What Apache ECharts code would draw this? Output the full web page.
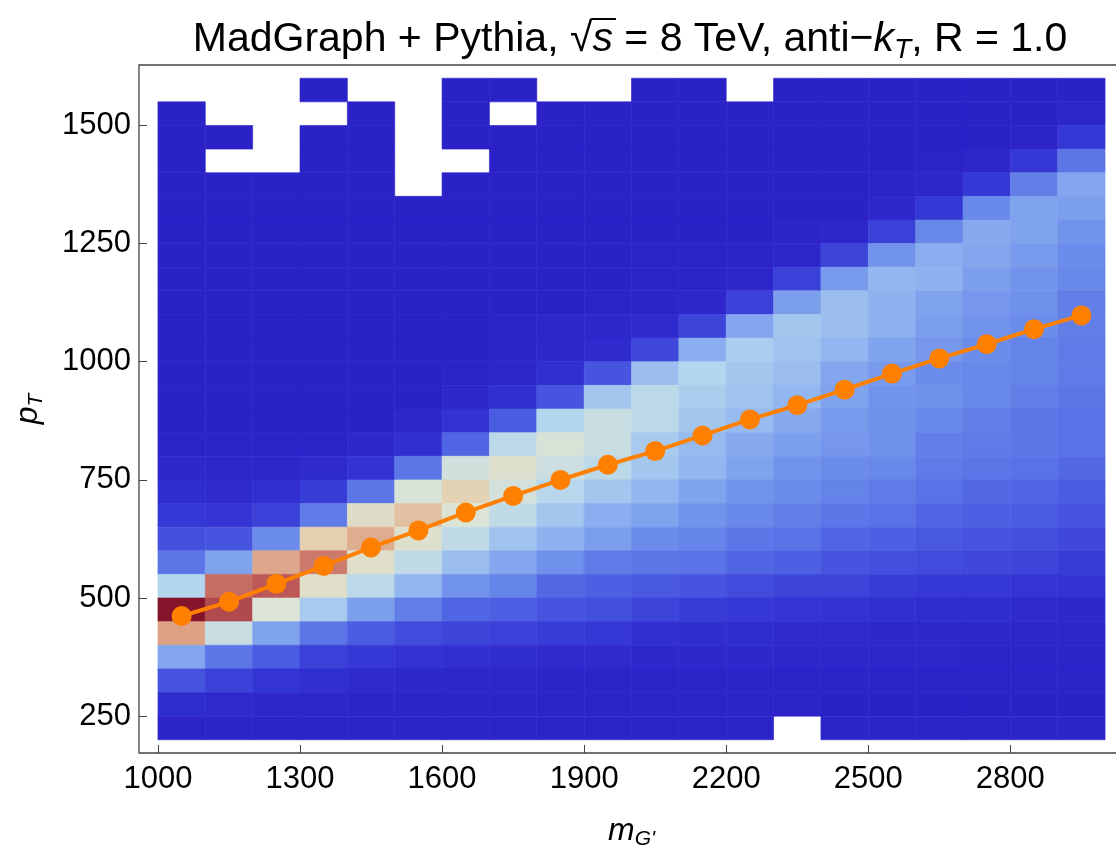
<!DOCTYPE html>
<html>
<head>
<meta charset="utf-8">
<script src="https://cdn.jsdelivr.net/npm/echarts@6/dist/echarts.min.js"></script>
<style>
html, body { margin: 0; padding: 0; background: #fff; }
#chart { width: 1116px; height: 852px; }
</style>
</head>
<body>
<div id="chart"></div>
<script>
// bin edges
const massEdges = [1000, 1100, 1200, 1300, 1400, 1500, 1600, 1700, 1800, 1900, 2000,
                   2100, 2200, 2300, 2400, 2500, 2600, 2700, 2800, 2900, 3000];
const ptEdges = [200, 250, 300, 350, 400, 450, 500, 550, 600, 650, 700, 750, 800, 850, 900,
                 950, 1000, 1050, 1100, 1150, 1200, 1250, 1300, 1350, 1400, 1450, 1500, 1550, 1600];

// tick labels
const massTicks = [1000, 1300, 1600, 1900, 2200, 2500, 2800];
const ptTicks = [250, 500, 750, 1000, 1250, 1500];

// relative bin content, top row (pT 1550-1600) first, null = empty bin
const counts = [
  [null, null, null, 2, null, null, 2, 2, null, null, 2, 2, null, 2, 2, 2, 2, 2, 2, 2],
  [2, null, null, null, 2, null, 2, null, 2, 2, 2, 2, 2, 2, 2, 2, 2, 2, 2, 4],
  [2, 2, null, 2, 2, null, 2, 2, 2, 2, 2, 2, 2, 2, 2, 2, 2, 2, 3, 11],
  [2, null, null, 2, 2, null, null, 2, 2, 2, 2, 2, 2, 2, 2, 2, 3, 4, 11, 26],
  [2, 2, 2, 2, 2, null, 2, 2, 2, 2, 2, 2, 2, 2, 2, 3, 4, 11, 28, 38],
  [2, 2, 2, 2, 2, 2, 2, 2, 2, 2, 2, 2, 2, 2, 2, 4, 11, 30, 37, 36],
  [2, 2, 2, 2, 2, 2, 2, 2, 2, 2, 2, 2, 2, 3, 4, 13, 30, 39, 37, 33],
  [2, 2, 2, 2, 2, 2, 2, 2, 2, 2, 3, 3, 3, 4, 14, 33, 40, 38, 35, 31],
  [2, 2, 2, 2, 2, 2, 2, 2, 2, 2, 3, 3, 4, 13, 35, 42, 41, 36, 33, 30],
  [2, 2, 2, 2, 2, 2, 2, 2, 2, 3, 3, 4, 13, 36, 44, 41, 37, 34, 32, 28],
  [2, 2, 2, 2, 2, 2, 2, 3, 4, 5, 6, 14, 38, 46, 44, 41, 36, 33, 31, 28],
  [2, 2, 2, 2, 2, 2, 2, 3, 5, 6, 15, 40, 48, 45, 42, 37, 34, 31, 29, 27],
  [2, 2, 2, 2, 2, 2, 3, 4, 8, 18, 44, 50, 46, 44, 38, 35, 31, 30, 29, 27],
  [2, 2, 2, 2, 2, 2, 5, 8, 18, 46, 52, 48, 45, 42, 37, 33, 32, 30, 28, 26],
  [2, 2, 2, 2, 2, 5, 9, 20, 50, 55, 52, 46, 43, 39, 35, 32, 30, 28, 26, 25],
  [3, 3, 3, 3, 5, 8, 22, 52, 59, 55, 47, 43, 39, 36, 34, 32, 28, 27, 26, 25],
  [5, 4, 4, 6, 9, 26, 57, 62, 56, 52, 46, 42, 37, 33, 31, 30, 27, 26, 25, 23],
  [7, 6, 8, 12, 26, 59, 69, 58, 51, 46, 42, 37, 33, 31, 29, 27, 25, 23, 22, 20],
  [11, 10, 13, 27, 64, 73, 60, 53, 46, 40, 37, 33, 30, 28, 26, 25, 22, 21, 20, 18],
  [17, 18, 31, 70, 77, 62, 53, 45, 41, 36, 31, 29, 26, 25, 22, 21, 19, 18, 17, 15],
  [26, 37, 78, 85, 63, 53, 44, 38, 32, 27, 26, 25, 22, 21, 18, 17, 16, 15, 14, 12],
  [50, 87, 90, 63, 52, 42, 33, 29, 23, 21, 19, 18, 16, 14, 14, 12, 11, 11, 10, 9],
  [100, 92, 60, 47, 36, 28, 22, 21, 18, 17, 14, 12, 11, 10, 9, 8, 7, 7, 6, 5],
  [79, 55, 37, 26, 20, 16, 14, 13, 12, 11, 8, 7, 7, 6, 6, 5, 5, 5, 4, 4],
  [38, 26, 20, 13, 11, 9, 8, 7, 6, 6, 5, 5, 5, 4, 4, 4, 4, 3, 3, 3],
  [18, 13, 10, 8, 6, 5, 4, 4, 3, 3, 3, 3, 3, 3, 3, 3, 3, 3, 3, 3],
  [7, 6, 5, 4, 3, 3, 3, 3, 3, 3, 3, 3, 3, 3, 2, 2, 2, 2, 2, 2],
  [3, 3, 3, 3, 3, 3, 3, 3, 3, 3, 3, 3, 3, null, 3, 3, 3, 3, 3, 3]
];

// mean pT per mass bin
const meanMass = [1050, 1150, 1250, 1350, 1450, 1550, 1650, 1750, 1850, 1950,
                  2050, 2150, 2250, 2350, 2450, 2550, 2650, 2750, 2850, 2950];
const meanPt = [462, 492, 530, 568, 607, 643, 681, 716, 750, 782,
                811, 844, 878, 908, 941, 975, 1007, 1037, 1069, 1098];

const tempColors = ['#281CC4', '#3434D4', '#4A5CE2', '#6888EA', '#8AAEEF', '#B4D6EE',
                    '#DCE4D6', '#E4D0B0', '#DC9C80', '#BC5856', '#84142A'];

const FONT = '"Liberation Sans", Arial, sans-serif';

const cells = [];
counts.forEach(function (row, i) {
    const r = counts.length - 1 - i;
    row.forEach(function (v, c) {
        if (v !== null) {
            cells.push([massEdges[c], massEdges[c + 1], ptEdges[r], ptEdges[r + 1], v]);
        }
    });
});

// title pieces, measured so the radical bar can sit over the s
const ctx = document.createElement('canvas').getContext('2d');
function textWidth(str, size, style) {
    ctx.font = (style || '') + ' ' + size + 'px ' + FONT;
    return ctx.measureText(str).width;
}
const TS = 41;
const TSUB = 28;
const pre = 'MadGraph + Pythia, \u221A';
const mid = ' = 8 TeV, anti\u2212';
const tail = ', R = 1.0';
const wPre = textWidth(pre, TS);
const wS = textWidth('s', TS, 'italic');
const titleWidth = wPre + wS + textWidth(mid, TS) + textWidth('k', TS, 'italic') +
    textWidth('T', TSUB, 'italic') + textWidth(tail, TS);
const titleCenter = 630;
const titleY = 40;
const titleLeft = titleCenter - titleWidth / 2;

const plainNumber = function (v) { return String(v); };

const chart = echarts.init(document.getElementById('chart'));
chart.setOption({
    animation: false,
    backgroundColor: '#fff',
    grid: {
        left: 139,
        top: 65,
        width: 985,
        height: 688,
        containLabel: false,
        outerBoundsMode: 'none',
        show: true,
        borderColor: '#444',
        borderWidth: 1.3
    },
    xAxis: {
        type: 'value',
        min: 960,
        max: 3040,
        axisLine: { show: false },
        splitLine: { show: false },
        axisTick: {
            show: true, inside: true, length: 8,
            customValues: massTicks,
            lineStyle: { color: '#444', width: 1 }
        },
        axisLabel: {
            customValues: massTicks,
            formatter: plainNumber,
            fontSize: 31, color: '#000', fontFamily: FONT, margin: 11
        },
        name: '{m|m}{sub|G\'}',
        nameLocation: 'middle',
        nameGap: 60,
        nameTextStyle: {
            rich: {
                m: { fontSize: 32, fontStyle: 'italic', fontFamily: FONT, color: '#000' },
                sub: { fontSize: 21, fontStyle: 'italic', fontFamily: FONT, color: '#000', padding: [16, 0, 0, 0] }
            }
        }
    },
    yAxis: {
        type: 'value',
        min: 172,
        max: 1628,
        axisLine: { show: false },
        splitLine: { show: false },
        axisTick: {
            show: true, inside: true, length: 8,
            customValues: ptTicks,
            lineStyle: { color: '#444', width: 1 }
        },
        axisLabel: {
            customValues: ptTicks,
            formatter: plainNumber,
            fontSize: 31, color: '#000', fontFamily: FONT, margin: 8
        },
        name: '{p|p}{sub|T}',
        nameLocation: 'middle',
        nameRotate: 90,
        nameGap: 92,
        nameTextStyle: {
            rich: {
                p: { fontSize: 32, fontStyle: 'italic', fontFamily: FONT, color: '#000' },
                sub: { fontSize: 21, fontStyle: 'italic', fontFamily: FONT, color: '#000', padding: [16, 0, 0, 0] }
            }
        }
    },
    visualMap: {
        show: false,
        type: 'continuous',
        min: 0,
        max: 100,
        dimension: 4,
        seriesIndex: 0,
        inRange: { color: tempColors }
    },
    graphic: [
        {
            type: 'text',
            x: titleLeft,
            y: titleY,
            style: {
                text: '{n|' + pre + '}{i|s}{n|' + mid + '}{i|k}{sub|T}{n|' + tail + '}',
                align: 'left',
                verticalAlign: 'middle',
                rich: {
                    n: { fontSize: TS, fontFamily: FONT, fill: '#000' },
                    i: { fontSize: TS, fontFamily: FONT, fontStyle: 'italic', fill: '#000' },
                    sub: { fontSize: TSUB, fontFamily: FONT, fontStyle: 'italic', fill: '#000', padding: [20, 0, 0, 0] }
                }
            }
        },
        {
            type: 'line',
            shape: {
                x1: titleLeft + wPre - 1,
                y1: titleY - 21,
                x2: titleLeft + wPre + wS + 3,
                y2: titleY - 21
            },
            style: { stroke: '#000', lineWidth: 2 }
        }
    ],
    series: [
        {
            type: 'custom',
            coordinateSystem: 'cartesian2d',
            encode: { x: [0, 1], y: [2, 3] },
            data: cells,
            silent: true,
            renderItem: function (params, api) {
                const p0 = api.coord([api.value(0), api.value(2)]);
                const p1 = api.coord([api.value(1), api.value(3)]);
                const color = api.visual('color');
                return {
                    type: 'rect',
                    shape: { x: p0[0], y: p1[1], width: p1[0] - p0[0], height: p0[1] - p1[1] },
                    style: { fill: color, stroke: color, lineWidth: 0.6 }
                };
            }
        },
        {
            type: 'line',
            data: meanMass.map(function (m, i) { return [m, meanPt[i]]; }),
            symbol: 'circle',
            symbolSize: 20,
            z: 5,
            silent: true,
            itemStyle: { color: '#FF8000' },
            lineStyle: { color: '#FF8000', width: 4 }
        }
    ]
});
</script>
</body>
</html>
